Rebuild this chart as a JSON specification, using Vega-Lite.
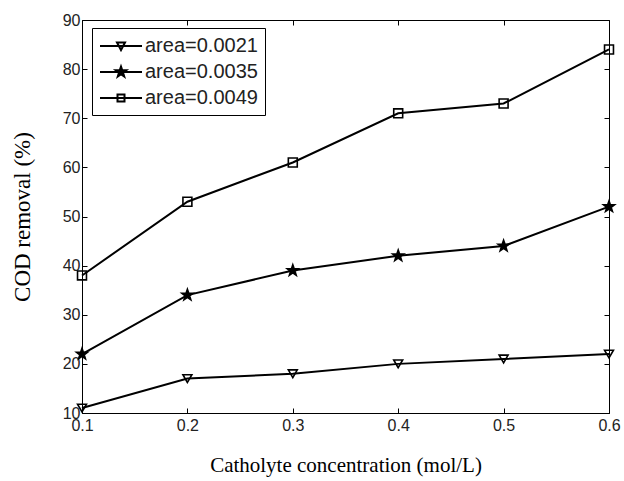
{
  "$schema": "https://vega.github.io/schema/vega-lite/v6.json",
  "width": 527,
  "height": 393,
  "autosize": "none",
  "padding": {"left": 82, "top": 20, "right": 15, "bottom": 68},
  "background": "white",
  "config": {
    "view": {"stroke": "black", "strokeWidth": 1},
    "axis": {
      "grid": false,
      "domainColor": "black",
      "tickColor": "black",
      "tickSize": -5,
      "labelFlush": false,
      "labelFont": "Liberation Sans",
      "labelFontSize": 16,
      "labelColor": "#222",
      "titleFont": "Liberation Serif",
      "titleFontSize": 21,
      "titleFontWeight": "normal",
      "titleColor": "black"
    }
  },
  "data": {
    "values": [
      {"series": "area=0.0021", "c": 0.1, "cod": 11},
      {"series": "area=0.0021", "c": 0.2, "cod": 17},
      {"series": "area=0.0021", "c": 0.3, "cod": 18},
      {"series": "area=0.0021", "c": 0.4, "cod": 20},
      {"series": "area=0.0021", "c": 0.5, "cod": 21},
      {"series": "area=0.0021", "c": 0.6, "cod": 22},
      {"series": "area=0.0035", "c": 0.1, "cod": 22},
      {"series": "area=0.0035", "c": 0.2, "cod": 34},
      {"series": "area=0.0035", "c": 0.3, "cod": 39},
      {"series": "area=0.0035", "c": 0.4, "cod": 42},
      {"series": "area=0.0035", "c": 0.5, "cod": 44},
      {"series": "area=0.0035", "c": 0.6, "cod": 52},
      {"series": "area=0.0049", "c": 0.1, "cod": 38},
      {"series": "area=0.0049", "c": 0.2, "cod": 53},
      {"series": "area=0.0049", "c": 0.3, "cod": 61},
      {"series": "area=0.0049", "c": 0.4, "cod": 71},
      {"series": "area=0.0049", "c": 0.5, "cod": 73},
      {"series": "area=0.0049", "c": 0.6, "cod": 84}
    ]
  },
  "resolve": {
    "axis": {"x": "independent", "y": "independent"},
    "scale": {"shape": "independent"},
    "legend": {"shape": "independent"}
  },
  "layer": [
    {
      "mark": {"type": "line", "color": "black", "strokeWidth": 2},
      "encoding": {
        "x": {"field": "c", "type": "quantitative", "scale": {"domain": [0.1, 0.6], "nice": false, "zero": false},
              "axis": {"values": [0.1, 0.2, 0.3, 0.4, 0.5, 0.6], "format": ".1f", "title": "Catholyte concentration (mol/L)", "labelPadding": 9, "titlePadding": 21}},
        "y": {"field": "cod", "type": "quantitative", "scale": {"domain": [10, 90], "nice": false, "zero": false},
              "axis": {"values": [10, 20, 30, 40, 50, 60, 70, 80, 90], "title": "COD removal (%)", "titleFontSize": 23, "labelPadding": 7, "titlePadding": 28}},
        "detail": {"field": "series"}
      }
    },
    {
      "mark": {"type": "point", "filled": true, "stroke": "black", "strokeWidth": 1.6, "size": 80, "opacity": 1},
      "encoding": {
        "x": {"field": "c", "type": "quantitative", "axis": {"orient": "top", "labels": false, "title": null, "domain": false, "values": [0.1, 0.2, 0.3, 0.4, 0.5, 0.6]}},
        "y": {"field": "cod", "type": "quantitative", "axis": {"orient": "right", "labels": false, "title": null, "domain": false, "values": [10, 20, 30, 40, 50, 60, 70, 80, 90]}},
        "shape": {
          "field": "series", "type": "nominal",
          "scale": {
            "domain": ["area=0.0021", "area=0.0035", "area=0.0049"],
            "range": ["triangle-down", "M0,-1.3L0.306,-0.421L1.236,-0.402L0.494,0.161L0.764,1.052L0,0.52L-0.764,1.052L-0.494,0.161L-1.236,-0.402L-0.306,-0.421Z", "square"]
          },
          "legend": null
        },
        "fill": {"condition": {"test": "datum.series === 'area=0.0035'", "value": "black"}, "value": "transparent"}
      }
    },
    {
      "transform": [{"filter": "false"}],
      "mark": {"type": "point", "filled": false, "stroke": "black", "strokeWidth": 2, "opacity": 1},
      "encoding": {
        "x": {"field": "c", "type": "quantitative", "axis": null},
        "y": {"field": "cod", "type": "quantitative", "axis": null},
        "shape": {
          "field": "series", "type": "nominal",
          "scale": {
            "domain": ["area=0.0021", "area=0.0035", "area=0.0049"],
            "range": [
              "M-1,0H3.2M0.7,-0.35H1.5L1.1,0.4Z",
              "M-1,0H3.2M1.1,-0.55L1.229,-0.178L1.623,-0.17L1.309,0.068L1.423,0.445L1.1,0.22L0.777,0.445L0.891,0.068L0.577,-0.17L0.971,-0.178ZM1.1,-0.32L1.175,-0.104L1.404,-0.099L1.222,0.04L1.288,0.259L1.1,0.128L0.912,0.259L0.978,0.04L0.796,-0.099L1.025,-0.104ZM1.1,-0.12L1.214,-0.037L1.171,0.097L1.029,0.097L0.986,-0.037Z",
              "M-1,0H3.2M0.75,-0.35H1.45V0.35H0.75Z"
            ]
          },
          "legend": {
            "title": null,
            "orient": "none",
            "legendX": 10,
            "legendY": 8,
            "padding": 7,
            "strokeColor": "black",
            "fillColor": "white",
            "symbolSize": 400,
            "symbolStrokeWidth": 2,
            "symbolOpacity": 1,
            "labelFont": "Liberation Sans",
            "labelFontSize": 20,
            "labelColor": "#222",
            "labelOffset": 24,
            "rowPadding": 5
          }
        }
      }
    }
  ]
}
